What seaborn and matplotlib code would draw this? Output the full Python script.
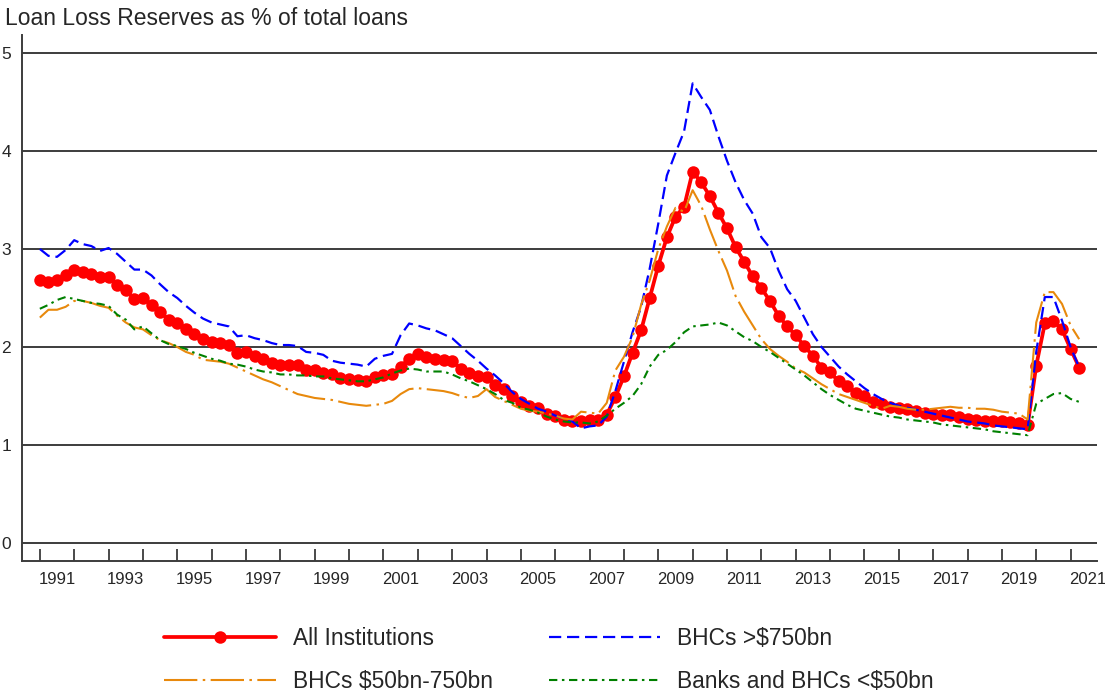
import numpy as np
import pandas as pd
import matplotlib
matplotlib.use("Agg")
import matplotlib.pyplot as plt
import seaborn as sns

# ---------------------------------------------------------------
# Data: quarterly loan loss reserves, % of total loans (1991Q1-2021Q2)
# ---------------------------------------------------------------
quarters = pd.period_range("1991Q1", "2021Q2", freq="Q")

all_institutions = [
    2.68, 2.66, 2.68, 2.73, 2.79, 2.77, 2.75, 2.71, 2.71, 2.63,
    2.58, 2.49, 2.50, 2.43, 2.36, 2.28, 2.25, 2.18, 2.13, 2.08,
    2.05, 2.04, 2.02, 1.94, 1.95, 1.91, 1.88, 1.84, 1.82, 1.82,
    1.82, 1.77, 1.77, 1.73, 1.72, 1.68, 1.67, 1.66, 1.65, 1.69,
    1.71, 1.72, 1.80, 1.88, 1.93, 1.90, 1.88, 1.87, 1.86, 1.78,
    1.73, 1.70, 1.69, 1.61, 1.57, 1.50, 1.44, 1.40, 1.38, 1.32,
    1.30, 1.26, 1.24, 1.25, 1.26, 1.26, 1.31, 1.49, 1.70, 1.94,
    2.17, 2.50, 2.83, 3.12, 3.33, 3.43, 3.79, 3.68, 3.54, 3.37,
    3.21, 3.02, 2.87, 2.72, 2.60, 2.47, 2.32, 2.21, 2.12, 2.01,
    1.91, 1.79, 1.74, 1.65, 1.60, 1.53, 1.50, 1.44, 1.42, 1.39,
    1.38, 1.37, 1.35, 1.33, 1.32, 1.31, 1.31, 1.29, 1.27, 1.26,
    1.25, 1.24, 1.24, 1.23, 1.22, 1.20, 1.81, 2.24, 2.27, 2.18,
    1.98, 1.79,
]

bhc_large = [
    3.00, 2.93, 2.92, 2.99, 3.09, 3.05, 3.03, 2.98, 3.01, 2.95,
    2.87, 2.79, 2.79, 2.73, 2.64, 2.56, 2.50, 2.42, 2.35, 2.29,
    2.25, 2.23, 2.21, 2.11, 2.12, 2.09, 2.07, 2.04, 2.02, 2.02,
    2.01, 1.95, 1.94, 1.92, 1.86, 1.84, 1.83, 1.82, 1.80, 1.88,
    1.91, 1.93, 2.12, 2.24, 2.22, 2.19, 2.17, 2.13, 2.09, 2.01,
    1.93, 1.86, 1.78, 1.71, 1.63, 1.54, 1.47, 1.42, 1.37, 1.34,
    1.30, 1.27, 1.24, 1.17, 1.19, 1.20, 1.29, 1.55, 1.85, 2.15,
    2.41, 2.80, 3.26, 3.75, 3.98, 4.20, 4.69, 4.55, 4.42, 4.15,
    3.90, 3.68, 3.50, 3.36, 3.12, 3.01, 2.78, 2.59, 2.47, 2.30,
    2.13, 2.00, 1.90, 1.80, 1.72, 1.65, 1.58, 1.52, 1.47, 1.43,
    1.40, 1.38, 1.36, 1.34, 1.32, 1.30, 1.28, 1.26, 1.24, 1.23,
    1.22, 1.20, 1.19, 1.18, 1.17, 1.16, 1.95, 2.51, 2.51, 2.27,
    2.00, 1.79,
]

bhc_mid = [
    2.30, 2.38, 2.38, 2.41, 2.47, 2.47, 2.45, 2.42, 2.40, 2.32,
    2.25, 2.20, 2.18, 2.12, 2.07, 2.04, 2.00, 1.95, 1.92, 1.87,
    1.86, 1.85, 1.83, 1.79, 1.75, 1.71, 1.67, 1.64, 1.60, 1.56,
    1.52, 1.50, 1.48, 1.47, 1.46, 1.44, 1.42, 1.41, 1.40, 1.41,
    1.42, 1.45, 1.52, 1.57, 1.58, 1.57, 1.56, 1.55, 1.53, 1.50,
    1.48, 1.50, 1.57, 1.49, 1.45, 1.41, 1.37, 1.35, 1.34, 1.32,
    1.30, 1.27, 1.26, 1.34, 1.33, 1.32, 1.43, 1.76, 1.90, 2.10,
    2.43, 2.68, 3.00, 3.23, 3.42, 3.38, 3.60, 3.44, 3.20, 2.98,
    2.78, 2.52, 2.36, 2.22, 2.08, 1.98, 1.91, 1.85, 1.78, 1.74,
    1.68, 1.62, 1.57, 1.52, 1.49, 1.46, 1.43, 1.40, 1.37, 1.40,
    1.39, 1.37, 1.36, 1.36, 1.37, 1.38, 1.39, 1.38, 1.38, 1.37,
    1.37, 1.36, 1.34, 1.33, 1.32, 1.26, 2.25, 2.56, 2.56, 2.44,
    2.22, 2.08,
]

banks_small = [
    2.39, 2.43, 2.48, 2.51, 2.49, 2.47, 2.45, 2.44, 2.42, 2.33,
    2.28, 2.18, 2.21, 2.14, 2.07, 2.03, 2.01, 1.98, 1.94, 1.91,
    1.88, 1.86, 1.83, 1.82, 1.80, 1.77, 1.75, 1.74, 1.72, 1.72,
    1.71, 1.71, 1.70, 1.70, 1.68, 1.67, 1.66, 1.65, 1.65, 1.67,
    1.69, 1.73, 1.76, 1.78, 1.77, 1.75, 1.75, 1.75, 1.72, 1.68,
    1.65, 1.61, 1.57, 1.52, 1.46, 1.43, 1.38, 1.36, 1.33, 1.29,
    1.26, 1.24, 1.23, 1.23, 1.22, 1.24, 1.30, 1.37, 1.43, 1.50,
    1.62, 1.80, 1.92, 1.97, 2.05, 2.15, 2.21, 2.22, 2.23, 2.25,
    2.22, 2.16, 2.10, 2.06, 2.00, 1.95, 1.89, 1.83, 1.77, 1.71,
    1.64, 1.57, 1.51, 1.46, 1.41, 1.37, 1.35, 1.33, 1.31, 1.29,
    1.28, 1.26, 1.25, 1.24, 1.23, 1.21, 1.20, 1.19, 1.18, 1.17,
    1.16, 1.14, 1.13, 1.12, 1.11, 1.10, 1.42, 1.47, 1.52, 1.53,
    1.47, 1.44,
]

series_labels = ["All Institutions", "BHCs $50bn-750bn",
                 "BHCs >$750bn", "Banks and BHCs <$50bn"]
year_labels = list(range(1991, 2022, 2))

# quarter -> fractional year (Q1 sits on the year boundary)
t = np.array([p.year + (p.quarter - 1) / 4 for p in quarters])

# ---------------------------------------------------------------
# Figure
# ---------------------------------------------------------------
sns.set_style("white")
plt.rcParams["font.family"] = ["Liberation Sans", "DejaVu Sans"]

fig = plt.figure(figsize=(11.05, 6.94), dpi=100)
ax = fig.add_axes([0.0199, 0.1916, 0.9729, 0.758])

grid_col = "#3c3c3c"
for yv in range(0, 6):
    ax.axhline(yv, color=grid_col, lw=1.4, zorder=1)

# red line with dots first, the others sit on top of it
sns.lineplot(x=t, y=all_institutions, ax=ax, color="#ff0000", lw=2.7,
             marker="o", markersize=9, markeredgewidth=0,
             label=series_labels[0], legend=False, zorder=3)
sns.lineplot(x=t, y=bhc_large, ax=ax, color="#0000ff", lw=1.6,
             linestyle=(0, (5.5, 2.6)),
             label=series_labels[2], legend=False, zorder=4)
sns.lineplot(x=t, y=bhc_mid, ax=ax, color="#e8890c", lw=1.5,
             linestyle=(0, (16, 2.6, 1.2, 2.6)),
             label=series_labels[1], legend=False, zorder=5)
sns.lineplot(x=t, y=banks_small, ax=ax, color="#008000", lw=1.5,
             linestyle=(0, (4, 2.2, 1.2, 2.2)),
             label=series_labels[3], legend=False, zorder=6)

ax.set_xlim(1990.48, 2021.77)
ax.set_ylim(-0.184, 5.184)

# year boundary ticks, labels centred in the middle of odd years
ax.set_xticks(np.arange(1991, 2022))
ax.set_xticklabels([])
ax.set_xticks([y + 0.5 for y in year_labels], minor=True)
ax.set_xticklabels([str(y) for y in year_labels], minor=True)
ax.tick_params(axis="x", which="major", direction="in", length=8.5,
               width=1.3, color=grid_col, bottom=True)
ax.tick_params(axis="x", which="minor", length=0, pad=8, labelsize=12)

ax.set_yticks(range(0, 6))
ax.tick_params(axis="y", length=0, pad=8, labelsize=12.5, left=True)

for side in ["top", "right"]:
    ax.spines[side].set_visible(False)
for side in ["left", "bottom"]:
    ax.spines[side].set_color(grid_col)
    ax.spines[side].set_linewidth(1.4)

ax.set_xlabel("")
ax.set_ylabel("")
ax.grid(False)

fig.text(0.0045, 0.974, "Loan Loss Reserves as % of total loans",
         fontsize=16.5, ha="left", va="center")

handles, labels = ax.get_legend_handles_labels()
order = [labels.index(l) for l in series_labels]
fig.legend([handles[i] for i in order], [labels[i] for i in order],
           ncol=2, loc="upper left", bbox_to_anchor=(0.1344, 0.1195),
           frameon=False, fontsize=16.4, handlelength=4.9,
           handletextpad=0.75, columnspacing=2.43, labelspacing=0.88,
           borderpad=0.2)

fig.savefig("out.png", dpi=100)
